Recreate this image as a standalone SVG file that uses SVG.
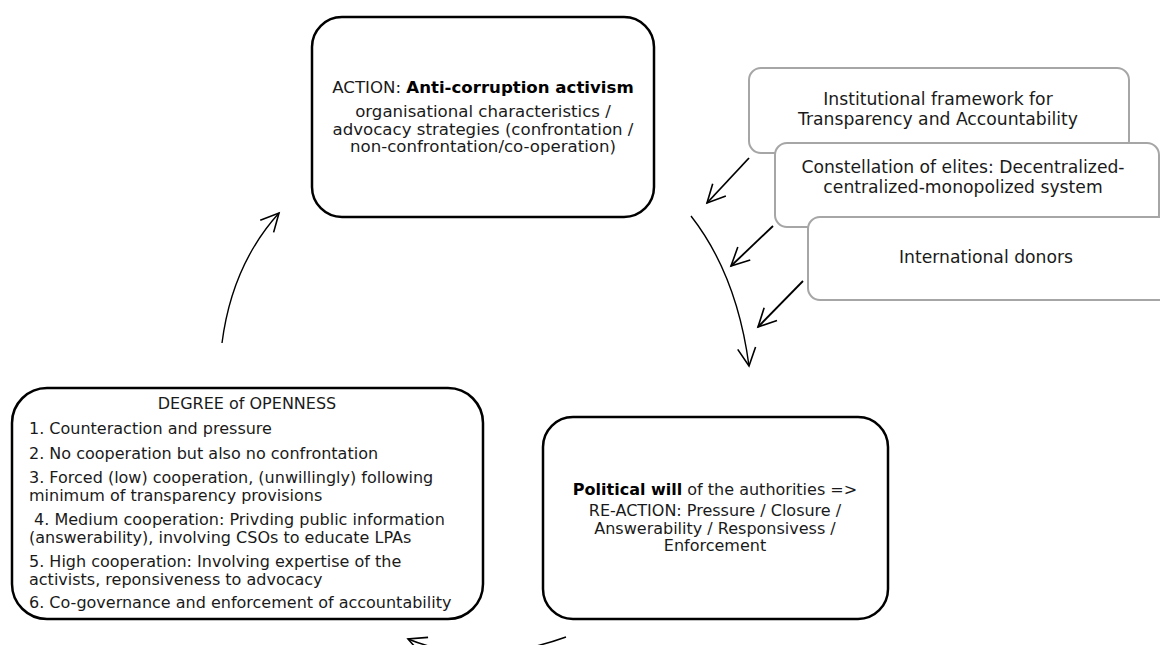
<svg xmlns="http://www.w3.org/2000/svg" width="1160" height="645" viewBox="0 0 1160 645">
<style>
.main{fill:#fff;stroke:#000;stroke-width:2.5}
.side{fill:#fff;stroke:#a6a6a6;stroke-width:2}
text{font-family:"DejaVu Sans",Verdana,sans-serif;font-size:16px;fill:#1a1a1a}
.t{font-size:16.6px}
.g{font-size:17.2px}
.c{text-anchor:middle}
.b{font-weight:bold;fill:#000}
.arr{fill:none;stroke:#000;stroke-width:1.4}
.arr2{fill:none;stroke:#000;stroke-width:1.8}
</style>
<defs>
<marker id="v" markerUnits="userSpaceOnUse" markerWidth="24" markerHeight="24" viewBox="-20 -12 24 24" refX="0" refY="0" orient="auto">
<path d="M-18,-9 L0,0 L-18,9" fill="none" stroke="#000" stroke-width="1.6"/>
</marker>
</defs>
<g id="connectors">
<path class="arr" d="M222,343 Q232,265 279,213" marker-end="url(#v)"/>
<path class="arr" d="M691,216 Q737,275 749,366" marker-end="url(#v)"/>
<path class="arr" d="M566,637 Q480,668 408,639" marker-end="url(#v)"/>
</g>
<g id="node-action">
<rect class="main" x="312" y="17" width="342" height="200" rx="30"/>
<text class="c t" x="483" y="93">ACTION: <tspan class="b">Anti-corruption activism</tspan></text>
<text class="c t" x="483" y="117">organisational characteristics /<tspan x="483" dy="17.5">advocacy strategies (confrontation /</tspan><tspan x="483" dy="17.5">non-confrontation/co-operation)</tspan></text>
</g>
<g id="node-institutional">
<rect class="side" x="749" y="68" width="380" height="85" rx="12"/>
<text class="c g" x="938" y="105">Institutional framework for<tspan x="938" dy="20">Transparency and Accountability</tspan></text>
</g>
<g id="node-elites">
<rect class="side" x="775" y="143" width="384" height="84" rx="12"/>
<text class="c g" x="963" y="173">Constellation of elites: Decentralized-<tspan x="963" dy="20">centralized-monopolized system</tspan></text>
</g>
<g id="node-donors">
<rect class="side" x="808" y="217" width="370" height="83" rx="12"/>
<text class="c g" x="986" y="263">International donors</text>
</g>
<g id="influence-arrows">
<path class="arr2" d="M749,158 L707,203" marker-end="url(#v)"/>
<path class="arr2" d="M773,226 L731,266" marker-end="url(#v)"/>
<path class="arr2" d="M803,281 L758,327" marker-end="url(#v)"/>
</g>
<g id="node-openness">
<rect class="main" x="12" y="388" width="471" height="231" rx="35"/>
<text class="c" x="247" y="409">DEGREE of OPENNESS</text>
<text x="29" y="434">1. Counteraction and pressure</text>
<text x="29" y="459">2. No cooperation but also no confrontation</text>
<text x="29" y="482.5">3. Forced (low) cooperation, (unwillingly) following<tspan x="29" dy="18">minimum of transparency provisions</tspan></text>
<text x="29" y="525" xml:space="preserve"> 4. Medium cooperation: Privding public information<tspan x="29" dy="18">(answerability), involving CSOs to educate LPAs</tspan></text>
<text x="29" y="566.5">5. High cooperation: Involving expertise of the<tspan x="29" dy="18">activists, reponsiveness to advocacy</tspan></text>
<text x="29" y="608">6. Co-governance and enforcement of accountability</text>
</g>
<g id="node-political">
<rect class="main" x="543" y="417" width="345" height="202" rx="30"/>
<text class="c" x="715" y="495"><tspan class="b">Political will</tspan> of the authorities =&gt;</text>
<text class="c" x="715" y="516">RE-ACTION: Pressure / Closure /<tspan x="715" dy="17.5">Answerability / Responsivess /</tspan><tspan x="715" dy="17.5">Enforcement</tspan></text>
</g>
</svg>
